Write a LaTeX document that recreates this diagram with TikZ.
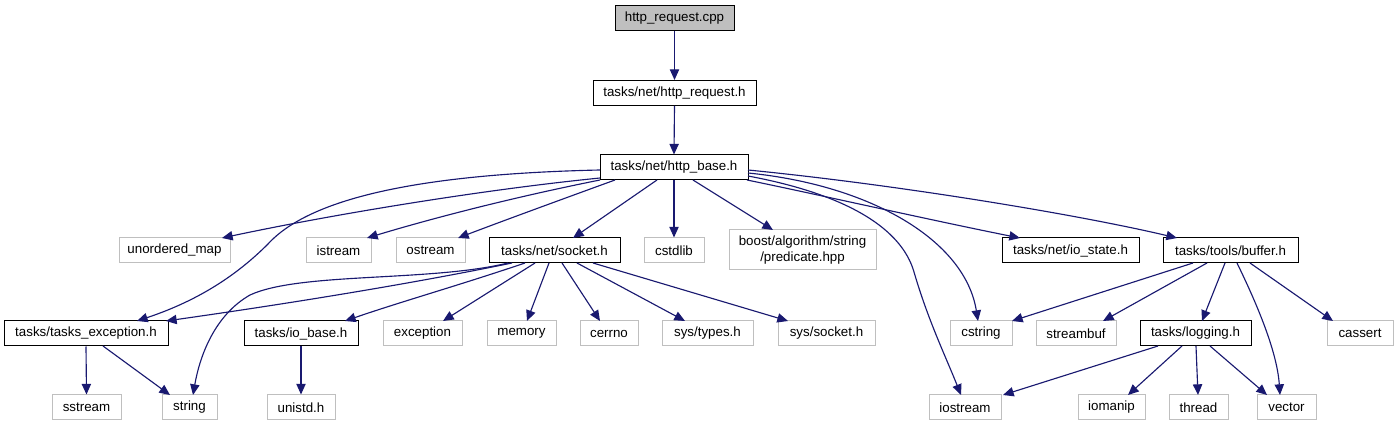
\documentclass[tikz,border=0pt]{standalone}
\usepackage{fontspec}
\setmainfont{Liberation Sans}
\usetikzlibrary{arrows.meta,calc}
\definecolor{edgeblue}{HTML}{191970}
\definecolor{sysgray}{HTML}{BFBFBF}
\tikzset{
  filebox/.style={draw=black,line width=0.75pt,inner sep=0pt,minimum height=18.75pt,font=\fontsize{10}{11.5}\selectfont,align=center},
  sysbox/.style={draw=sysgray,line width=0.75pt,inner sep=0pt,minimum height=18.75pt,font=\fontsize{10}{11.5}\selectfont,align=center},
  rootbox/.style={filebox,fill=sysgray},
  dep/.style={draw=edgeblue,line width=0.85pt,-{Triangle[length=8pt,width=7pt]}}
}
\begin{document}
\begin{tikzpicture}[x=0.75pt,y=-0.75pt]
\useasboundingbox (0,0) rectangle (1397,427);
% nodes
\node[rootbox,minimum width=89.25pt] (root) at (674.5,18.5) {http\_request.cpp};
\node[filebox,minimum width=122.25pt] (req) at (674.5,93) {tasks/net/http\_request.h};
\node[filebox,minimum width=111pt] (base) at (674,167.5) {tasks/net/http\_base.h};
% row 2
\node[sysbox,minimum width=83.25pt] (umap) at (174.5,250.5) {unordered\_map};
\node[sysbox,minimum width=48.75pt] (istr) at (338.5,250.5) {istream};
\node[sysbox,minimum width=51.75pt] (ostr) at (430.5,250.5) {ostream};
\node[filebox,minimum width=98.25pt] (sock) at (554.5,250.5) {tasks/net/socket.h};
\node[sysbox,minimum width=45pt] (cstdlib) at (674,250.5) {cstdlib};
\node[sysbox,minimum width=110.25pt,minimum height=30pt] (boost) at (802.5,250) {boost/algorithm/string\\/predicate.hpp};
\node[filebox,minimum width=102.75pt] (iostate) at (1070.5,250.5) {tasks/net/io\_state.h};
\node[filebox,minimum width=101.25pt] (buf) at (1230.5,250.5) {tasks/tools/buffer.h};
% row 3
\node[filebox,minimum width=123pt] (texc) at (86,333.5) {tasks/tasks\_exception.h};
\node[filebox,minimum width=85.5pt] (iobase) at (301,333.5) {tasks/io\_base.h};
\node[sysbox,minimum width=59.25pt] (exc) at (422.5,333.5) {exception};
\node[sysbox,minimum width=51.75pt] (mem) at (521.5,333.5) {memory};
\node[sysbox,minimum width=43.5pt] (cerrno) at (609,333.5) {cerrno};
\node[sysbox,minimum width=68.25pt] (systypes) at (707.5,333.5) {sys/types.h};
\node[sysbox,minimum width=72.75pt] (syssock) at (826.5,333.5) {sys/socket.h};
\node[sysbox,minimum width=46.5pt] (cstring) at (981,333.5) {cstring};
\node[sysbox,minimum width=60pt] (sbuf) at (1076,333.5) {streambuf};
\node[filebox,minimum width=83.25pt] (log) at (1195.5,333.5) {tasks/logging.h};
\node[sysbox,minimum width=49.5pt] (cassert) at (1360,333.5) {cassert};
% row 4
\node[sysbox,minimum width=51.75pt] (sstr) at (86.5,407.5) {sstream};
\node[sysbox,minimum width=41.25pt] (str) at (189.5,407.5) {string};
\node[sysbox,minimum width=51pt] (unistd) at (301,407.5) {unistd.h};
\node[sysbox,minimum width=54pt] (iostr) at (965,407.5) {iostream};
\node[sysbox,minimum width=50.25pt] (iomanip) at (1111.5,407.5) {iomanip};
\node[sysbox,minimum width=44.25pt] (thread) at (1198.5,407.5) {thread};
\node[sysbox,minimum width=44.25pt] (vec) at (1286.5,407.5) {vector};
% edges
\draw[dep] (root.south) -- (req.north);
\draw[dep] (req.south) -- (base.north);
% from http_base.h
\draw[dep] ($(base)+(-74,10.5)$) .. controls (480,190) and (330,215) .. ($(umap)+(47.5,-12.5)$);
\draw[dep] ($(base)+(-74,2.5)$) .. controls (420,174) and (310,198) .. (268,244) .. controls (238,274) and (200,300) .. ($(texc)+(51,-12.5)$);
\draw[dep] ($(base)+(-74,12.5)$) .. controls (500,200) and (420,222) .. ($(istr)+(28.5,-12.5)$);
\draw[dep] ($(base)+(-59,12.5)$) .. controls (560,200) and (500,222) .. ($(ostr)+(27.5,-12.5)$);
\draw[dep] ($(base)+(-17,12.5)$) -- ($(sock)+(18.5,-12.5)$);
\draw[dep] (base.south) -- (cstdlib.north);
\draw[dep] ($(base)+(19,12.5)$) -- ($(boost)+(-29.5,-20)$);
\draw[dep] ($(base)+(73,12.5)$) .. controls (820,195) and (930,220) .. ($(iostate)+(-50.5,-12.5)$);
\draw[dep] ($(base)+(74,2.5)$) .. controls (900,185) and (1080,215) .. ($(buf)+(-53.5,-12.5)$);
\draw[dep] ($(base)+(74,5.5)$) .. controls (870,185) and (965,240) .. ($(cstring)+(-3,-12.5)$);
\draw[dep] ($(base)+(74,8.5)$) .. controls (850,195) and (902,230) .. (914,272) .. controls (928,320) and (945,355) .. ($(iostr)+(-4,-12.5)$);
% from socket.h
\draw[dep] ($(sock)+(-42.5,12.5)$) .. controls (420,282) and (300,302) .. ($(texc)+(80,-12.5)$);
\draw[dep] ($(sock)+(-46.5,12.5)$) .. controls (430,282) and (300,272) .. (250,295) .. controls (215,315) and (200,355) .. ($(str)+(3.5,-12.5)$);
\draw[dep] ($(sock)+(-29.5,12.5)$) .. controls (460,285) and (400,302) .. ($(iobase)+(44,-12.5)$);
\draw[dep] ($(sock)+(-19.5,12.5)$) -- ($(exc)+(20.5,-12.5)$);
\draw[dep] ($(sock)+(-5.5,12.5)$) -- ($(mem)+(5.5,-12.5)$);
\draw[dep] ($(sock)+(7.5,12.5)$) -- ($(cerrno)+(-9,-12.5)$);
\draw[dep] ($(sock)+(22.5,12.5)$) -- ($(systypes)+(-22.5,-12.5)$);
\draw[dep] ($(sock)+(38.5,12.5)$) -- ($(syssock)+(-38.5,-12.5)$);
% from tasks_exception.h
\draw[dep] (texc.south) -- (sstr.north);
\draw[dep] ($(texc)+(17,12.5)$) -- ($(str)+(-19.5,-12.5)$);
% from io_base.h
\draw[dep] (iobase.south) -- (unistd.north);
% from buffer.h
\draw[dep] ($(buf)+(-37.5,12.5)$) -- ($(cstring)+(31,-12.5)$);
\draw[dep] ($(buf)+(-23.5,12.5)$) -- ($(sbuf)+(27,-12.5)$);
\draw[dep] ($(buf)+(-5.5,12.5)$) -- ($(log)+(6.5,-12.5)$);
\draw[dep] ($(buf)+(6.5,12.5)$) .. controls (1255,300) and (1277,350) .. ($(vec)+(-6.5,-12.5)$);
\draw[dep] ($(buf)+(19.5,12.5)$) -- ($(cassert)+(-27,-12.5)$);
% from logging.h
\draw[dep] ($(log)+(-37.5,12.5)$) -- ($(iostr)+(38,-12.5)$);
\draw[dep] ($(log)+(-13.5,12.5)$) -- ($(iomanip)+(16.5,-12.5)$);
\draw[dep] ($(log)+(0.5,12.5)$) -- ($(thread)+(-0.5,-12.5)$);
\draw[dep] ($(log)+(14.5,12.5)$) -- ($(vec)+(-19.5,-12.5)$);
\end{tikzpicture}
\end{document}
